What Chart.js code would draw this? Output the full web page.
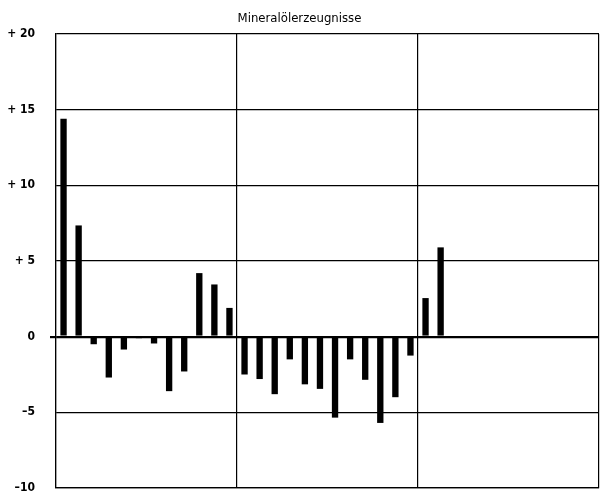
<!DOCTYPE html>
<html>
<head>
<meta charset="utf-8">
<script src="https://cdn.jsdelivr.net/npm/chart.js@4/dist/chart.umd.min.js"></script>
<style>
  html, body { margin: 0; padding: 0; background: #fff; }
  #wrap { width: 604px; height: 493px; position: relative; }
</style>
</head>
<body>
<div id="wrap"><canvas id="chart"></canvas></div>
<script>
// three years of monthly slots, only the first 26 months have a value
const months = ["Jan", "Feb", "Mär", "Apr", "Mai", "Jun", "Jul", "Aug", "Sep", "Okt", "Nov", "Dez"];
const years = ["1", "2", "3"];
const labels = [];
years.forEach(y => months.forEach(m => labels.push(m + " " + y)));

const year1 = [14.4, 7.35, -0.5, -2.7, -0.85, -0.1, -0.45, -3.6, -2.3, 4.2, 3.45, 1.9];
const year2 = [-2.5, -2.8, -3.8, -1.5, -3.15, -3.45, -5.35, -1.5, -2.85, -5.7, -4.0, -1.25];
const year3 = [2.55, 5.9];
const values = year1.concat(year2, year3);

const yTicks = [-10, -5, 0, 5, 10, 15, 20];
const title = "Mineralölerzeugnisse";

const font = "'DejaVu Sans Condensed', 'Liberation Sans Narrow', sans-serif";

new Chart(document.getElementById("chart"), {
  type: "bar",
  data: {
    labels: labels,
    datasets: [{
      data: values,
      backgroundColor: "#000",
      borderWidth: 0,
      barPercentage: 0.42,
      categoryPercentage: 1
    }]
  },
  options: {
    responsive: true,
    maintainAspectRatio: false,
    animation: false,
    layout: { padding: { top: 0, right: 5, left: 0, bottom: 5 } },
    plugins: {
      legend: { display: false },
      tooltip: { enabled: false },
      title: {
        display: true,
        text: title,
        color: "#000",
        font: { family: font, size: 13, weight: "normal" },
        padding: { top: 11, bottom: 7.4 }
      }
    },
    scales: {
      x: {
        ticks: { display: false },
        afterFit: axis => { axis.height = 0; },
        grid: {
          offset: true,
          drawTicks: false,
          color: c => (c.index === undefined || c.index % 12 === 0) ? "#000" : "rgba(0,0,0,0)",
          lineWidth: 1.2
        },
        border: { display: true, color: "#000", width: 1.2 }
      },
      y: {
        min: yTicks[0],
        max: yTicks[yTicks.length - 1],
        afterBuildTicks: axis => { axis.ticks = yTicks.map(v => ({ value: v })); },
        afterFit: axis => {
          axis.width = 56;
          // let the end labels overhang like in the print
          axis.paddingTop = 0;
          axis.paddingBottom = 0;
        },
        ticks: {
          color: "#000",
          font: { family: font, size: 12, weight: "bold" },
          padding: 15,
          callback: v => v > 0 ? "+ " + v : (v < 0 ? "\u2013" + Math.abs(v) : "0")
        },
        grid: {
          color: "#000",
          lineWidth: c => c.tick && c.tick.value === 0 ? 2.2 : 1.2,
          tickLength: 6,
          tickColor: c => c.tick && c.tick.value === 0 ? "#000" : "rgba(0,0,0,0)",
          tickWidth: 2.2
        },
        border: { display: true, color: "#000", width: 1.2 }
      }
    }
  }
});
</script>
</body>
</html>
